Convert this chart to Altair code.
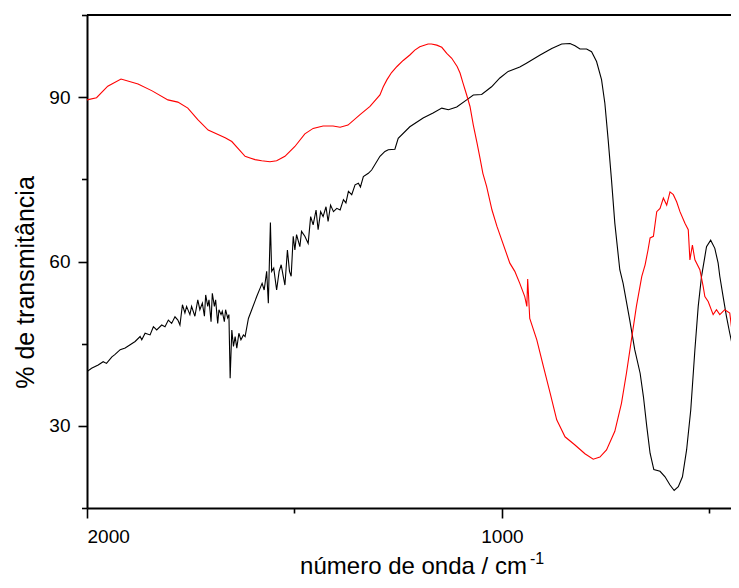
import altair as alt
import pandas as pd

# Black spectrum (wavenumber / cm-1, % transmittance)
black_wn = [2000, 1989, 1973, 1961, 1953, 1940, 1933, 1920, 1908, 1896, 1884, 1872, 1868, 1860, 1848,
            1840, 1832, 1820, 1812, 1804, 1796, 1788, 1781, 1776, 1770, 1764, 1760, 1752, 1748, 1740,
            1733, 1728, 1722, 1717, 1714, 1709, 1706, 1701, 1698, 1693, 1690, 1685, 1682, 1677, 1674,
            1669, 1666, 1661, 1658, 1655, 1651, 1647, 1643, 1639, 1634, 1629, 1623, 1619, 1611, 1603,
            1591, 1583, 1578, 1573, 1567, 1563, 1558, 1555, 1550, 1543, 1537, 1532, 1527, 1523, 1517,
            1512, 1508, 1503, 1499, 1495, 1487, 1483, 1475, 1467, 1461, 1455, 1448, 1443, 1437, 1431,
            1424, 1419, 1413, 1406, 1398, 1390, 1382, 1376, 1370, 1362, 1354, 1346, 1341, 1334, 1322,
            1314, 1294, 1282, 1274, 1258, 1250, 1222, 1190, 1166, 1145, 1129, 1109, 1085, 1069, 1049,
            1025, 1005, 985, 957, 941, 908, 880, 856, 836, 824, 812, 796, 784, 772, 760, 752, 744, 736,
            728, 716, 708, 692, 680, 667, 659, 651, 643, 634, 619, 607, 595, 585, 575, 565, 555, 545,
            535, 527, 519, 511, 507, 497, 487, 479, 475, 467, 459, 451, 446, 439, 429]
black_t = [39.9, 40.5, 41.1, 41.7, 41.4, 42.6, 43.0, 43.9, 44.2, 44.8, 45.4, 46.3, 45.7, 46.9, 46.6,
           48.1, 47.5, 48.4, 48.1, 49.3, 48.7, 49.9, 49.3, 48.4, 52.1, 50.6, 51.8, 50.3, 51.8, 50.0,
           53.0, 51.2, 52.4, 50.0, 53.9, 51.8, 53.0, 49.0, 54.2, 51.8, 53.0, 48.7, 51.2, 50.3, 50.9,
           49.0, 51.2, 49.7, 50.3, 38.7, 47.5, 44.5, 46.3, 44.2, 46.9, 45.7, 46.6, 46.3, 49.6, 51.2,
           53.6, 55.1, 56.0, 54.8, 58.2, 52.4, 67.1, 58.2, 58.8, 54.8, 58.2, 59.4, 57.3, 55.7, 62.1,
           58.2, 57.3, 64.6, 62.1, 64.9, 62.7, 65.5, 64.6, 63.3, 68.2, 66.7, 69.4, 65.8, 69.1, 68.2,
           70.0, 67.3, 70.3, 69.1, 69.7, 69.4, 71.3, 70.7, 72.8, 72.2, 74.0, 74.3, 73.6, 75.5, 76.1,
           76.7, 79.2, 80.1, 80.4, 80.5, 82.5, 84.6, 86.2, 87.1, 88.0, 87.7, 88.2, 89.5, 90.4, 90.5,
           91.9, 93.5, 94.7, 95.5, 96.2, 97.7, 98.9, 99.7, 99.8, 99.4, 98.8, 98.8, 98.3, 96.5, 93.2,
           88.9, 82.2, 74.9, 67.0, 58.5, 56.0, 49.3, 43.9, 39.6, 35.3, 29.9, 25.0, 22.0, 21.7, 20.7,
           19.2, 18.2, 18.9, 20.7, 25.6, 32.9, 43.9, 51.8, 57.3, 60.9, 62.7, 63.9, 62.4, 59.7, 57.3,
           53.6, 50.0, 46.9, 45.1, 45.7, 46.6]

# Red spectrum
red_wn = [2000, 1977, 1950, 1918, 1877, 1843, 1805, 1781, 1757, 1733, 1708, 1667, 1651, 1619, 1607,
          1595, 1579, 1559, 1543, 1523, 1511, 1499, 1475, 1455, 1431, 1407, 1390, 1371, 1342, 1318,
          1294, 1286, 1277, 1266, 1253, 1238, 1222, 1210, 1198, 1178, 1170, 1157, 1145, 1133, 1121,
          1108, 1101, 1094, 1085, 1077, 1069, 1060, 1053, 1046, 1037, 1024, 1012, 981, 969, 957,
          945, 940, 938, 933, 916, 900, 884, 868, 848, 824, 800, 780, 764, 748, 728, 712, 700, 688,
          676, 663, 655, 648, 643, 635, 627, 619, 611, 603, 595, 587, 579, 571, 559, 551, 547, 541,
          535, 523, 515, 511, 503, 491, 483, 475, 463, 451, 443, 439, 433, 429]
red_t = [89.5, 89.9, 92.0, 93.3, 92.4, 91.15, 89.5, 89.1, 88.0, 85.9, 84.0, 82.6, 81.9, 79.2, 78.9,
         78.6, 78.4, 78.2, 78.4, 79.2, 80.1, 81.0, 83.3, 84.3, 84.75, 84.75, 84.5, 84.9, 86.8, 88.3,
         90.4, 91.9, 93.2, 94.5, 95.6, 96.7, 97.7, 98.6, 99.2, 99.7, 99.7, 99.5, 99.1, 98.0, 97.1,
         95.6, 94.4, 92.6, 90.4, 88.3, 84.9, 81.6, 78.9, 76.1, 73.7, 69.4, 66.4, 59.7, 58.2, 56.0,
         53.6, 51.8, 56.8, 49.6, 45.7, 40.8, 36.0, 31.1, 28.0, 26.5, 24.9, 23.9, 24.3, 25.6, 29.0,
         34.1, 39.6, 45.7, 51.8, 57.3, 59.4, 62.1, 64.3, 64.6, 69.1, 69.7, 71.6, 70.3, 72.7, 72.2,
         70.9, 69.1, 67.0, 65.8, 60.3, 63.0, 60.3, 58.5, 55.4, 53.6, 52.7, 50.3, 51.2, 50.3, 51.2,
         50.6, 45.7, 41.1, 52.4, 52.7]

x_ticks = [2000, 1500, 1000, 500]
y_ticks = [15, 30, 45, 60, 75, 90, 105]

df = pd.concat([
    pd.DataFrame({"wn": black_wn, "t": black_t, "serie": "A"}),
    pd.DataFrame({"wn": red_wn, "t": red_t, "serie": "B"}),
])

W, H = 644, 493
FONT = "Liberation Sans"

lines = alt.Chart(df).mark_line(strokeWidth=1.1, clip=True).encode(
    x=alt.X("wn:Q",
            scale=alt.Scale(domain=[448, 2000], reverse=True, nice=False, zero=False),
            axis=alt.Axis(values=x_ticks, grid=False,
                          labelExpr="datum.value % 1000 === 0 ? datum.label : ''",
                          format="d",
                          tickSize={"condition": {"test": "datum.value % 1000 === 0", "value": 10}, "value": 5},
                          labelPadding=9,
                          title="número de onda / cm",
                          titleX=326, titleY=65, titleBaseline="alphabetic", titleAlign="center")),
    y=alt.Y("t:Q",
            scale=alt.Scale(domain=[15, 105], nice=False, zero=False),
            axis=alt.Axis(values=y_ticks, grid=False,
                          labelExpr="datum.value % 30 === 0 ? datum.label : ''",
                          tickSize={"condition": {"test": "datum.value % 30 === 0", "value": 9}, "value": 5.5},
                          labelPadding=8,
                          title="% de transmitância",
                          titleX=-54, titleY=267, titleAngle=-90,
                          titleBaseline="alphabetic", titleAlign="center",
                          titleFontSize=25)),
    color=alt.Color("serie:N", scale=alt.Scale(domain=["A", "B"], range=["#000000", "#ff0000"]),
                    legend=None),
    detail="serie:N",
)

top_line = alt.Chart(pd.DataFrame({"k": [0]})).mark_rule(color="black", strokeWidth=2).encode(
    x=alt.value(0), x2=alt.value(W), y=alt.value(0)
)

sup = alt.Chart(pd.DataFrame({"s": ["-1"]})).mark_text(
    align="left", baseline="alphabetic", fontSize=16, font=FONT, color="black"
).encode(x=alt.value(443), y=alt.value(548.5), text="s:N")

chart = alt.layer(lines, top_line, sup).properties(
    width=W, height=H,
    autosize=alt.AutoSizeParams(type="none"),
    padding={"left": 79, "top": 7, "right": 0, "bottom": 72},
).configure_view(stroke=None).configure_axis(
    domainColor="black", domainWidth=2, tickColor="black", tickWidth=1.6,
    labelFont=FONT, labelFontSize=19, labelColor="black",
    titleFont=FONT, titleFontSize=24, titleColor="black", titleFontWeight="normal",
)

chart.save("out.html", embed_options={"renderer": "svg", "actions": False})
